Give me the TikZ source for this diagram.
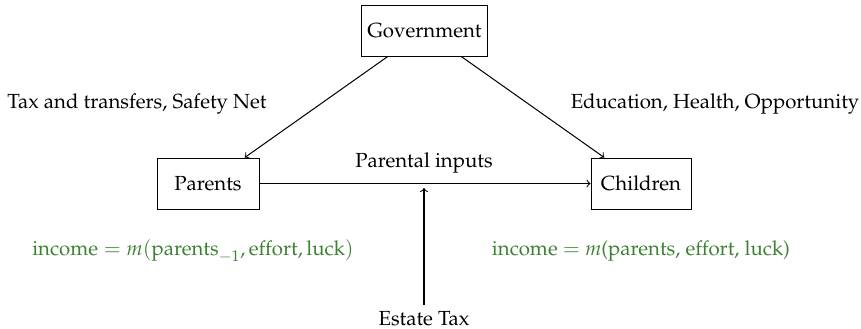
\documentclass[tikz,border=0pt]{standalone}
\usepackage[T1]{fontenc}
\usepackage{mathpazo}
\definecolor{eqgreen}{RGB}{60,130,50}
\tikzset{
  box/.style={draw, line width=0.45pt, inner sep=0pt, minimum height=25pt, font=\normalsize},
  lbl/.style={inner sep=0pt, font=\normalsize},
  eq/.style={inner sep=0pt, text=eqgreen, font=\normalsize},
  conn/.style={->, line width=0.5pt}
}
\begin{document}
\begin{tikzpicture}[x=0.49pt, y=-0.49pt]
\useasboundingbox (0,0) rectangle (861,329);
\node[box, minimum width=62pt] (gov) at (424.5,30.5) {Government};
\node[box, minimum width=50pt] (par) at (208,183.5) {Parents};
\node[box, minimum width=49pt] (chi) at (641,183.5) {Children};
\node[lbl] (taxlbl) at (137,104) {Tax and transfers, Safety Net};
\node[lbl] (edulbl) at (715,104) {Education, Health, Opportunity};
\node[lbl] (pinlbl) at (424,163) {Parental inputs};
\node[lbl, outer sep=3.4pt] (estate) at (424,319) {Estate Tax};
\node[eq] (eqpar) at (193,251) {$\mathrm{income} = m(\mathrm{parents}_{-1}, \mathrm{effort}, \mathrm{luck})$};
\node[eq] (eqchi) at (641,251) {income $=$ $m$(parents, effort, luck)};
\coordinate (tip) at (424,188);
\draw[conn] (gov) -- (par);
\draw[conn] (gov) -- (chi);
\draw[conn] (par) -- (chi);
\draw[conn] (estate) -- (tip);
\end{tikzpicture}
\end{document}
